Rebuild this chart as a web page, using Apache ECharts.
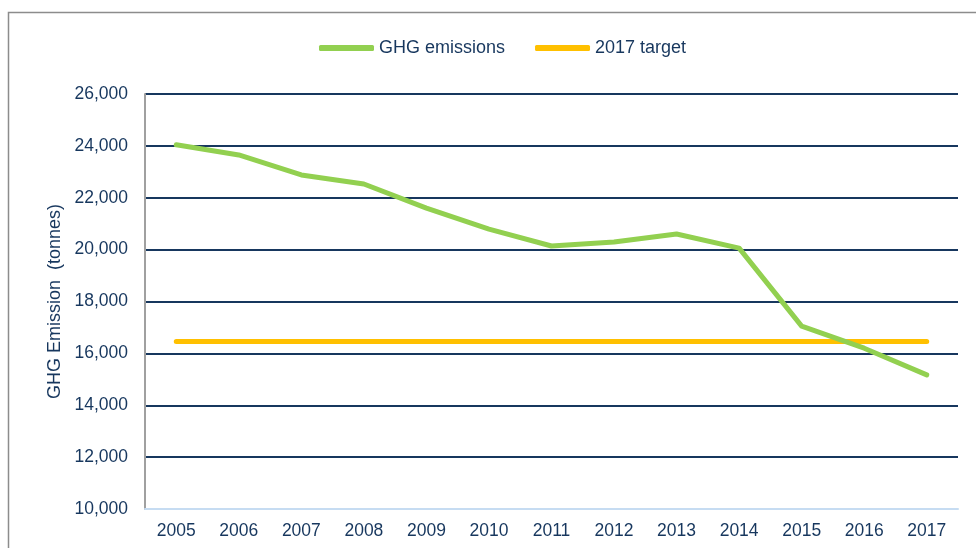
<!DOCTYPE html>
<html>
<head>
<meta charset="utf-8">
<script src="https://cdn.jsdelivr.net/npm/echarts@6/dist/echarts.min.js"></script>
<style>
html,body{margin:0;padding:0;background:#fff;}
#main{width:976px;height:548px;}
</style>
</head>
<body>
<div id="main"></div>
<script>
// 数据
var years = ['2005','2006','2007','2008','2009','2010','2011','2012','2013','2014','2015','2016','2017'];
var emissions = [24040, 23650, 22880, 22530, 21600, 20790, 20140, 20290, 20600, 20060, 17050, 16200, 15170];
var target = [16460, 16460, 16460, 16460, 16460, 16460, 16460, 16460, 16460, 16460, 16460, 16460, 16460];

var textColor = '#17375e';
var myChart = echarts.init(document.getElementById('main'));
var option = {
    animation: false,
    textStyle: {fontFamily: 'Liberation Sans, Arial, sans-serif'},
    graphic: [{
        type: 'rect',
        shape: {x: 8.5, y: 12.5, width: 1000, height: 600},
        style: {fill: 'none', stroke: '#8c8c8c', lineWidth: 1.5},
        silent: true
    }],
    legend: {
        top: 34,
        left: 314,
        itemWidth: 55,
        itemHeight: 6,
        itemGap: 30,
        textStyle: {color: textColor, fontSize: 18, fontFamily: 'Liberation Sans, Arial, sans-serif'},
        data: [
            {name: 'GHG emissions', icon: 'roundRect'},
            {name: '2017 target', icon: 'roundRect'}
        ]
    },
    grid: {left: 145, right: 18, top: 94, bottom: 39},
    xAxis: {
        type: 'category',
        data: years,
        boundaryGap: true,
        axisLine: {lineStyle: {color: '#c6dcf2', width: 2}},
        axisTick: {show: false},
        axisLabel: {color: textColor, fontSize: 17.5, margin: 13}
    },
    yAxis: {
        type: 'value',
        min: 10000,
        max: 26000,
        interval: 2000,
        name: 'GHG Emission  (tonnes)',
        nameLocation: 'middle',
        nameGap: 80,
        nameTextStyle: {color: textColor, fontSize: 18},
        axisLine: {show: true, lineStyle: {color: '#a0a0a0', width: 2}},
        axisTick: {show: false},
        axisLabel: {
            color: textColor, fontSize: 17.5, margin: 17,
            formatter: function (v) { return v.toLocaleString('en-US'); }
        },
        splitLine: {lineStyle: {color: '#17375e', width: 2}}
    },
    series: [{
        name: 'GHG emissions',
        type: 'line',
        data: emissions,
        showSymbol: false,
        symbol: 'none',
        itemStyle: {color: '#92d050'},
        lineStyle: {color: '#92d050', width: 5, cap: 'round', join: 'round'},
        z: 3
    }, {
        name: '2017 target',
        type: 'line',
        data: target,
        showSymbol: false,
        symbol: 'none',
        itemStyle: {color: '#ffc000'},
        lineStyle: {color: '#ffc000', width: 5, cap: 'round'},
        z: 2
    }]
};
myChart.setOption(option);
</script>
</body>
</html>
